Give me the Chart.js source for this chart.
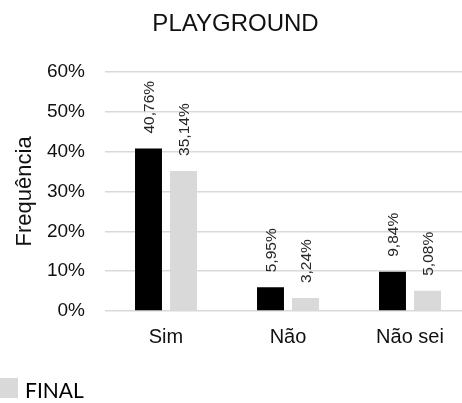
<!DOCTYPE html>
<html>
<head>
<meta charset="utf-8">
<script src="https://cdn.jsdelivr.net/npm/chart.js@4"></script>
<style>
  html, body { margin: 0; padding: 0; background: #fff; overflow: hidden; }
  #wrap { position: absolute; left: 0; top: 0; width: 474px; height: 403px; }
</style>
</head>
<body>
<div id="wrap"><canvas id="chart"></canvas></div>
<script>
const categories = ['Sim', 'Não', 'Não sei'];
const inicialValues = [40.76, 5.95, 9.84];
const finalValues = [35.14, 3.24, 5.08];
const yTicks = [0, 10, 20, 30, 40, 50, 60];

const canvas = document.querySelector('#chart');
const ctx = canvas.getContext('2d');

function fmt(v){
    return v.toFixed(2).replace('.', ',') + '%';
}

// rotated value labels above each bar
const barLabels = {
    id: 'barLabels',
    afterDatasetsDraw(chart){
        const c = chart.ctx;
        chart.data.datasets.forEach((ds, i) => {
            const meta = chart.getDatasetMeta(i);
            meta.data.forEach((bar, j) => {
                c.save();
                c.translate(bar.x + 1, bar.y - 15);
                c.rotate(-Math.PI / 2);
                c.font = '15.5px "Liberation Sans", Arial, sans-serif';
                c.fillStyle = '#262626';
                c.textAlign = 'left';
                c.textBaseline = 'middle';
                c.fillText(fmt(ds.data[j]), 0, 0);
                c.restore();
            });
        });
    }
};

// legend: only the FINAL entry is visible at the bottom left
const bottomLegend = {
    id: 'bottomLegend',
    afterDraw(chart){
        const c = chart.ctx;
        const ds = chart.data.datasets[1];
        c.save();
        c.fillStyle = ds.backgroundColor;
        c.fillRect(0, 378, 18, 20);
        c.font = '21px Lato, "Open Sans", sans-serif';
        c.fillStyle = '#000';
        c.textAlign = 'left';
        c.textBaseline = 'alphabetic';
        c.fillText(ds.label, 25, 398);
        c.restore();
    }
};

const chart = new Chart(ctx, {
    type: 'bar',
    data: {
        labels: categories,
        datasets: [{
            label: 'INICIAL',
            data: inicialValues,
            backgroundColor: '#000000',
            categoryPercentage: 0.574,
            barPercentage: 0.77
        }, {
            label: 'FINAL',
            data: finalValues,
            backgroundColor: '#d9d9d9',
            categoryPercentage: 0.574,
            barPercentage: 0.77
        }]
    },
    options: {
        responsive: true,
        maintainAspectRatio: false,
        animation: false,
        layout: { padding: { left: 0, right: 3, top: 0, bottom: 48 } },
        plugins: {
            legend: { display: false },
            tooltip: { enabled: false },
            title: {
                display: true,
                text: 'PLAYGROUND',
                color: '#111',
                font: { family: '"Liberation Sans", Arial, sans-serif', size: 24, weight: 'normal' },
                padding: { top: 10, bottom: 33 }
            }
        },
        scales: {
            x: {
                grid: { display: false },
                border: { display: false },
                ticks: {
                    color: '#111',
                    padding: 6,
                    font: { family: '"Liberation Sans", Arial, sans-serif', size: 20 }
                }
            },
            y: {
                min: 0,
                max: 60,
                afterFit(scale){ scale.width = 105; },
                afterBuildTicks(scale){ scale.ticks = yTicks.map(v => ({ value: v })); },
                grid: { color: '#d9d9d9', lineWidth: 1.5, drawTicks: false },
                border: { display: false },
                ticks: {
                    color: '#111',
                    padding: 20,
                    font: { family: '"Liberation Sans", Arial, sans-serif', size: 19 },
                    callback: v => v + '%'
                },
                title: {
                    display: true,
                    text: 'Frequência',
                    color: '#111',
                    font: { family: '"Liberation Sans", Arial, sans-serif', size: 22 },
                    padding: { top: 12, bottom: 0 }
                }
            }
        }
    },
    plugins: [barLabels, bottomLegend]
});
</script>
</body>
</html>
